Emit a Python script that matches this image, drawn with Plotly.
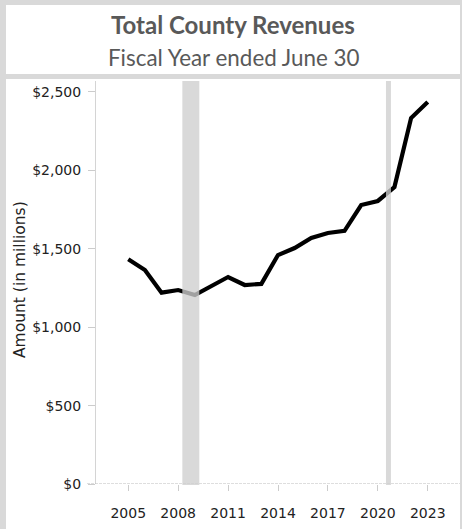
import plotly.graph_objects as go

years = list(range(2005, 2024))
revenues = [1433, 1365, 1220, 1237, 1205, 1262, 1320, 1269, 1276, 1460,
            1505, 1569, 1601, 1614, 1779, 1805, 1894, 2334, 2436]
tick_years = [2005, 2008, 2011, 2014, 2017, 2020, 2023]
y_ticks = [0, 500, 1000, 1500, 2000, 2500]
y_tick_labels = ["$0", "$500", "$1,000", "$1,500", "$2,000", "$2,500"]
shaded_periods = [(2008.25, 2009.27), (2020.49, 2020.79)]

W, H = 462, 529
L, R, T, B = 96, 2, 81, 45
pw = W - L - R
ph = H - T - B


def px_x(px):
    return (px - L) / pw


def px_y(py):
    return (H - B - py) / ph


fig = go.Figure()
fig.add_trace(go.Scatter(x=years, y=revenues, mode="lines",
                         line=dict(color="#000000", width=4.2),
                         hoverinfo="skip", showlegend=False))

shapes = [
    dict(type="rect", xref="paper", yref="paper", x0=px_x(6), x1=px_x(460),
         y0=px_y(74), y1=px_y(5), fillcolor="white", line_width=0, layer="below"),
    dict(type="rect", xref="paper", yref="paper", x0=px_x(6), x1=px_x(460),
         y0=px_y(540), y1=px_y(79), fillcolor="white", line_width=0, layer="below"),
    dict(type="line", xref="paper", yref="y", x0=px_x(87), x1=1, y0=0, y1=0,
         line=dict(color="#bdbdbd", width=1.2, dash="3px,1px"), layer="above"),
]
for x0, x1 in shaded_periods:
    shapes.append(dict(type="rect", xref="x", yref="paper", x0=x0, x1=x1,
                       y0=px_y(485), y1=1, fillcolor="#cecece", opacity=0.78,
                       line_width=0, layer="above"))

annotations = [
    dict(text="<b>Total County Revenues</b>", xref="paper", yref="paper",
         x=px_x(233), y=px_y(24), xanchor="center", yanchor="middle",
         showarrow=False, font=dict(family="Lato", size=24, color="#595959")),
    dict(text="Fiscal Year ended June 30", xref="paper", yref="paper",
         x=px_x(233), y=px_y(57), xanchor="center", yanchor="middle",
         showarrow=False, font=dict(family="Lato", size=22.4, color="#595959")),
    dict(text="Amount (in millions)", xref="paper", yref="paper",
         x=px_x(20), y=px_y(280), xanchor="center", yanchor="middle",
         textangle=-90, showarrow=False,
         font=dict(family="DejaVu Sans", size=15.5, color="#222222")),
]

fig.update_layout(
    width=W, height=H,
    margin=dict(l=L, r=R, t=T, b=B, pad=0),
    paper_bgcolor="#d9d9d9",
    plot_bgcolor="white",
    shapes=shapes,
    annotations=annotations,
    xaxis=dict(range=[2003.06, 2024.94], tickvals=tick_years,
               ticktext=[str(y) for y in tick_years],
               showgrid=False, zeroline=False, showline=False,
               ticks="outside", ticklen=6, tickcolor="#cccccc", tickwidth=1,
               ticklabelstandoff=10,
               tickfont=dict(family="DejaVu Sans", size=14, color="#222222")),
    yaxis=dict(range=[0, 2570], tickvals=y_ticks, ticktext=y_tick_labels,
               showgrid=False, zeroline=False, showline=True,
               linecolor="#d4d4d4", linewidth=1,
               ticks="outside", ticklen=7, tickcolor="#cccccc", tickwidth=1,
               ticklabelstandoff=4,
               tickfont=dict(family="DejaVu Sans", size=14, color="#222222")),
)

fig.write_html("out.html", config={"displayModeBar": False},
               post_script="document.body.style.margin='0';")
